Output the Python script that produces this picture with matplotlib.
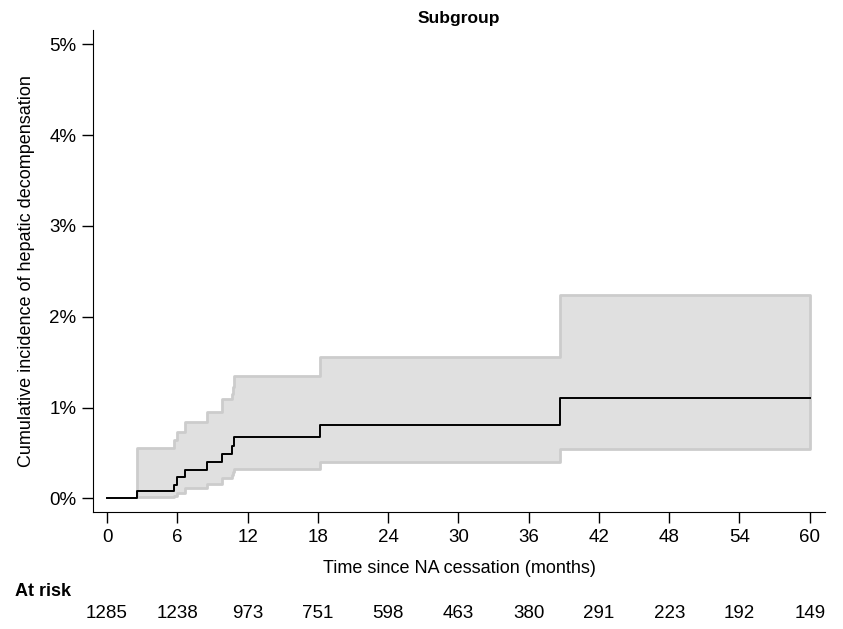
import matplotlib.pyplot as plt

plt.rcParams['font.family'] = ['Liberation Sans', 'DejaVu Sans']

# cumulative incidence (%)
times = [0, 2.6, 5.75, 5.94, 6.66, 8.56, 9.78, 10.64, 10.86, 18.17, 38.7, 60]
estimate = [0, 0.078, 0.15, 0.233, 0.315, 0.40, 0.49, 0.58, 0.67, 0.805, 1.10, 1.10]

# confidence band, starting at the first event
ci_times = [2.6, 5.75, 5.94, 6.66, 8.56, 9.78, 10.64, 10.75, 10.86, 18.17, 38.7, 60]
ci_upper = [0.55, 0.642, 0.733, 0.843, 0.953, 1.09, 1.15, 1.23, 1.345, 1.556, 2.24, 2.24]
ci_lower = [0.01, 0.03, 0.06, 0.11, 0.16, 0.22, 0.26, 0.29, 0.32, 0.40, 0.544, 0.544]

xticks = [0, 6, 12, 18, 24, 30, 36, 42, 48, 54, 60]
at_risk = [1285, 1238, 973, 751, 598, 463, 380, 291, 223, 192, 149]
yticks = [0, 1, 2, 3, 4, 5]

fig = plt.figure(figsize=(8.43, 6.29), dpi=100)
ax = fig.add_axes([0.1103, 0.186, 0.8683, 0.766])

ax.fill_between(ci_times, ci_lower, ci_upper, step='post',
                facecolor='#e0e0e0', edgecolor='#cccccc', linewidth=2)
ax.step(times, estimate, where='post', color='black', linewidth=1.4)

ax.set_xlim(-1.2, 61.3)
ax.set_ylim(-0.151, 5.157)
ax.set_xticks(xticks)
ax.set_yticks(yticks)
ax.set_yticklabels([f'{v}%' for v in yticks])
ax.spines['top'].set_visible(False)
ax.spines['right'].set_visible(False)
ax.tick_params(direction='out', length=8, width=1, labelsize=13.5, pad=4)

ax.set_title('Subgroup', fontsize=12.5, fontweight='bold', pad=5)
ax.set_xlabel('Time since NA cessation (months)', fontsize=13, labelpad=10)
ax.set_ylabel('Cumulative incidence of hepatic decompensation', fontsize=13, labelpad=10)

fig.text(15 / 843, 1 - 591 / 629, 'At risk', fontsize=13, fontweight='bold',
         ha='left', va='center')
for t, n in zip(xticks, at_risk):
    x_fig = fig.transFigure.inverted().transform(ax.transData.transform((t, 0)))[0]
    fig.text(x_fig, 1 - 614 / 629, str(n), fontsize=13.5, ha='center', va='center')

fig.savefig('out.png', dpi=100)
